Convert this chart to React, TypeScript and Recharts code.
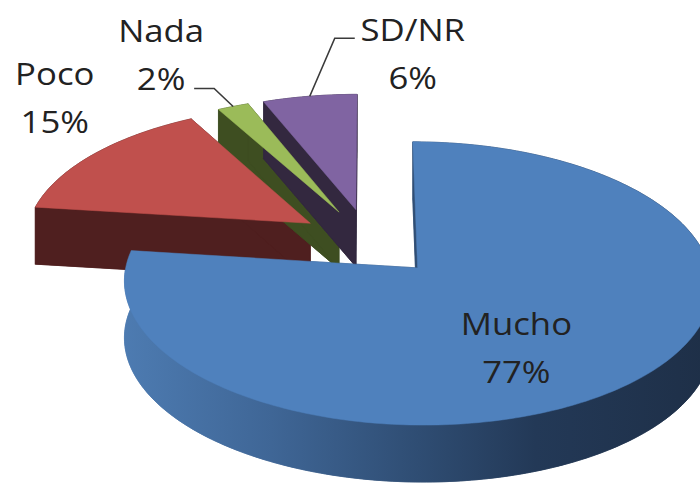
import React from 'react';
import { PieChart, Pie } from 'recharts';

// ---- data ----
const categories = ['Mucho', 'Poco', 'Nada', 'SD/NR'];
const shares = [77, 15, 2, 6];
const percentLabels = ['77%', '15%', '2%', '6%'];

// ---- styles ----
const topColors = ['#4f81bd', '#c0504d', '#9bbb59', '#8064a2'];
const sideColors = ['url(#muchoSide)', '#4f1f1f', '#3e4e21', '#33283f'];

const data = categories.map((name, i) => ({ name, value: shares[i], pct: percentLabels[i] }));

const W = 700;
const H = 488;
const TILT = (28 * Math.PI) / 180;
const SIN_T = Math.sin(TILT);
const COS_T = Math.cos(TILT);
const FOCAL = 2345;
const EXPLODE = 72;
const DEPTH_PX = 57;

// label layout: radial factor + offset of the text block centre; optional leader
const LABEL_LAYOUT = [
  { rho: 0.5, dx: -4, dy: 25, leader: null as null | number[] },
  { rho: 1, dx: -39, dy: -56, leader: null as null | number[] },
  { rho: 1, dx: -72, dy: -51, leader: [-19, -18, -20] },
  { rho: 1, dx: 103, dy: -42, leader: [25, -58, 20] },
];

const rad = (d: number) => (d * Math.PI) / 180;

function project(cx: number, cy: number, u: number, v: number, dropPx: number) {
  const Y = v * SIN_T;
  const Zc = -v * COS_T;
  const s = FOCAL / (FOCAL + Zc);
  return [cx + u * s, cy + Y * s + dropPx];
}

function sliceGeom(p: any) {
  const { cx, cy, outerRadius, startAngle, endAngle } = p;
  const t0 = 90 - startAngle;
  const t1 = 90 - endAngle;
  const tm = (t0 + t1) / 2;
  const ou = EXPLODE * Math.sin(rad(tm));
  const ov = -EXPLODE * Math.cos(rad(tm));
  const n = Math.max(2, Math.ceil(Math.abs(t1 - t0)));
  const at = (t: number, r: number, d: number) =>
    project(cx, cy, ou + r * Math.sin(rad(t)), ov - r * Math.cos(rad(t)), d);
  const arc = (d: number) => {
    const pts: number[][] = [];
    for (let k = 0; k <= n; k++) pts.push(at(t0 + ((t1 - t0) * k) / n, outerRadius, d));
    return pts;
  };
  const apex = (d: number) => project(cx, cy, ou, ov, d);
  return { arc, apex, at, tm, outerRadius };
}

const toPath = (pts: number[][]) =>
  'M' + pts.map((q) => `${q[0].toFixed(2)},${q[1].toFixed(2)}`).join('L') + 'Z';

const renderSide = (p: any) => {
  const i = p.index;
  const g = sliceGeom(p);
  const top = g.arc(0);
  const bot = g.arc(DEPTH_PX);
  const a0 = g.apex(0);
  const a1 = g.apex(DEPTH_PX);
  const fill = sideColors[i];
  const xs = top.concat(bot).map((q) => q[0]);
  const minX = Math.min(...xs);
  const maxX = Math.max(...xs);
  const polys = [
    [a1, ...bot],
    [...top, ...bot.slice().reverse()],
    [a0, top[0], bot[0], a1],
    [a0, top[top.length - 1], bot[bot.length - 1], a1],
  ];
  return (
    <g key={`side-${i}`}>
      {i === 0 && (
        <defs>
          <linearGradient id="muchoSide" gradientUnits="userSpaceOnUse" x1={minX} x2={maxX} y1={0} y2={0}>
            <stop offset="0" stopColor="#4d7bb1" />
            <stop offset="0.25" stopColor="#3f6696" />
            <stop offset="0.5" stopColor="#2f4d73" />
            <stop offset="0.7" stopColor="#233957" />
            <stop offset="1" stopColor="#1e2f47" />
          </linearGradient>
        </defs>
      )}
      {polys.map((pts, k) => (
        <path key={k} d={toPath(pts)} fill={fill} stroke={fill} strokeWidth={0.6} strokeLinejoin="round" />
      ))}
    </g>
  );
};

const renderTop = (p: any) => {
  const i = p.index;
  const g = sliceGeom(p);
  const pts = [g.apex(0), ...g.arc(0)];
  return <path key={`top-${i}`} d={toPath(pts)} fill={topColors[i]} stroke={topColors[i]} strokeWidth={0.5} />;
};

const TEXT_STYLE = { fontFamily: '"Open Sans", sans-serif', fontSize: 31, fill: '#222' };

const renderText = (p: any) => {
  const i = p.index;
  const lay = LABEL_LAYOUT[i];
  const g = sliceGeom(p);
  const anchor = g.at(g.tm, g.outerRadius * lay.rho, 0);
  const ax = anchor[0];
  const ay = anchor[1];
  const tx = ax + lay.dx;
  const ty = ay + lay.dy;
  let leader = null;
  if (lay.leader) {
    const ex = ax + lay.leader[0];
    const ey = ay + lay.leader[1];
    const fx = ex + lay.leader[2];
    leader = (
      <polyline points={`${ax},${ay} ${ex},${ey} ${fx},${ey}`} fill="none" stroke="#3a3a3a" strokeWidth={1.6} />
    );
  }
  return (
    <g key={`txt-${i}`}>
      {leader}
      <text transform={`translate(${tx} ${ty - 13}) scale(1.12 1)`} textAnchor="middle" style={TEXT_STYLE}>
        {p.name}
      </text>
      <text transform={`translate(${tx} ${ty + 35}) scale(1.12 1)`} textAnchor="middle" style={TEXT_STYLE}>
        {p.payload.pct}
      </text>
    </g>
  );
};

export default function App() {
  const common = {
    data,
    dataKey: 'value',
    nameKey: 'name',
    cx: 369,
    cy: 242,
    outerRadius: 286,
    startAngle: 90,
    endAngle: -270,
    isAnimationActive: false,
    fill: 'transparent',
    stroke: 'none',
    labelLine: false,
  };
  return (
    <div style={{ position: 'absolute', left: 0, top: 0, width: W, height: H, background: '#fff' }}>
      <PieChart width={W} height={H} margin={{ top: 0, right: 0, bottom: 0, left: 0 }}>
        <Pie {...common} label={renderSide} />
        <Pie {...common} label={renderTop} />
        <Pie {...common} label={renderText} />
      </PieChart>
    </div>
  );
}
